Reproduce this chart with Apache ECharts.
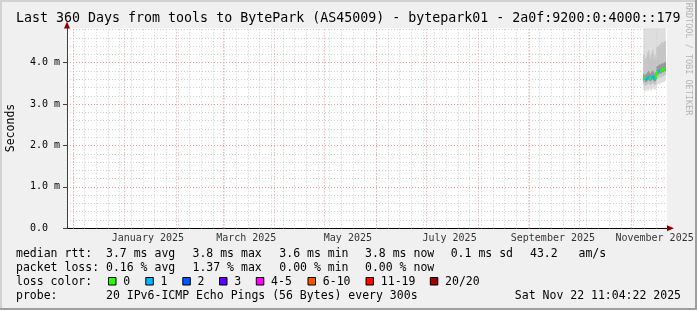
<!DOCTYPE html>
<html><head><meta charset="utf-8">
<script src="https://cdn.jsdelivr.net/npm/echarts@6/dist/echarts.min.js"></script>
<style>html,body{margin:0;padding:0;background:#f0f0f0}#c{width:697px;height:310px}</style>
</head><body><div id="c"></div>
<script>
// ---------------- data ----------------
const chartTitle = 'Last 360 Days from tools to BytePark (AS45009) - bytepark01 - 2a0f:9200:0:4000::179';
const yAxisTitle = 'Seconds';
const rangeStart = '2024-11-27T11:04:22Z';
const rangeEnd = '2025-11-22T11:04:22Z';
const sampleStart = '2025-11-08T13:30:00Z';
const sampleStepHours = 14.4;
// median RTT per consolidated step (ms)
const medianRtt = [3.62,3.61,3.60,3.60,3.63,3.65,3.63,3.62,3.64,3.66,3.64,3.60,3.62,3.75,3.77,3.78,3.81,3.80,3.82,3.84,3.84,3.86];
// lost pings (of 20) per step -> colour bucket
const lossCount = [0,0,0,1,1,1,1,0,0,1,1,1,1,0,0,0,1,1,0,0,0,0];
// smoke: distribution of ping RTTs per step (ms)
const smokeMin = [3.34,3.31,3.33,3.36,3.32,3.35,3.38,3.33,3.36,3.40,3.37,3.34,3.38,3.48,3.50,3.47,3.52,3.50,3.53,3.55,3.52,3.56];
const smokeP10 = [3.47,3.45,3.44,3.46,3.48,3.50,3.47,3.46,3.49,3.51,3.49,3.46,3.48,3.60,3.62,3.63,3.65,3.64,3.66,3.68,3.67,3.70];
const smokeP25 = [3.55,3.54,3.53,3.54,3.57,3.58,3.56,3.55,3.57,3.59,3.57,3.54,3.56,3.68,3.70,3.71,3.74,3.73,3.75,3.77,3.77,3.79];
const smokeP75 = [3.74,3.72,3.71,3.73,3.77,3.80,3.76,3.74,3.78,3.81,3.78,3.74,3.77,3.90,3.92,3.93,3.96,3.95,3.97,3.99,3.98,4.01];
const smokeP90 = [4.20,4.12,4.08,4.15,4.25,4.30,4.18,4.10,4.22,4.32,4.20,4.10,4.18,4.35,4.40,4.38,4.45,4.42,4.48,4.50,4.46,4.52];
const smokeMax = [5.6,5.3,5.2,5.5,5.8,6.0,5.4,5.2,5.6,6.1,5.5,5.2,5.4,5.9,6.2,6.0,6.3,6.1,6.4,6.5,6.2,6.6];
const yMax = 4.83;
const monthLabels = ['January 2025','March 2025','May 2025','July 2025','September 2025','November 2025'];
const monthLabelDates = ['2025-01-15','2025-03-15','2025-05-15','2025-07-15','2025-09-15','2025-11-15'];
const monthLineDates = ['2024-12-01','2025-01-01','2025-02-01','2025-03-01','2025-04-01','2025-05-01','2025-06-01','2025-07-01','2025-08-01','2025-09-01','2025-10-01','2025-11-01'];
const firstWeekLine = '2024-12-01';
const lossLegendLabels = ['0','1','2','3','4-5','6-10','11-19','20/20'];
const lossLegendColors = ['#26ff00','#00b8ff','#0059ff','#5e00ff','#ff00ff','#ff5500','#ff0000','#a00000'];
const rttRow = ['median rtt:  3.7 ms avg','3.8 ms max','3.6 ms min','3.8 ms now','0.1 ms sd','43.2   am/s'];
const lossRow = ['packet loss: 0.16 % avg','1.37 % max','0.00 % min','0.00 % now'];
const lossColorTitle = 'loss color:';
const probeRow = 'probe:       20 IPv6-ICMP Echo Pings (56 Bytes) every 300s';
const stampText = 'Sat Nov 22 11:04:22 2025';
const watermark = 'RRDTOOL / TOBI OETIKER';

// ---------------- build ----------------
const DAY = 86400000;
const t0 = Date.parse(rangeStart), t1 = Date.parse(rangeEnd);
const STEP = sampleStepHours * 3600000;
const sampleT = medianRtt.map((_, i) => Date.parse(sampleStart) + i * STEP);
const weekLines = [];
for (let t = Date.parse(firstWeekLine + 'T00:00:00Z'); t < t1; t += 7 * DAY) weekLines.push(t);
const bucketColor = n => n === 0 ? lossLegendColors[0] : lossLegendColors[Math.min(n, 3)];

const MONO = '"DejaVu Sans Mono"';
const legendCols = [16, 192.5, 279.3, 365, 450.7, 530];
const boxX = [108.5, 145.8, 182.8, 219.5, 256.3, 308, 366, 430.3];
const rowY = [254, 268.3, 282, 296];
const lf = '11.5px ' + MONO;

const graphic = [];
function txt(s, x, y, font, opts) {
  graphic.push(Object.assign({ type: 'text', silent: true, z: 10,
    style: Object.assign({ text: s, x: x, y: y, font: font, fill: '#000', verticalAlign: 'middle', textVerticalAlign: 'middle', align: 'left' }, opts || {}) }));
}
// border bevel
graphic.push({ type: 'rect', shape: { x: 0, y: 0, width: 697, height: 2 }, style: { fill: '#d2d2d2' }, silent: true });
graphic.push({ type: 'rect', shape: { x: 0, y: 0, width: 2, height: 310 }, style: { fill: '#d2d2d2' }, silent: true });
graphic.push({ type: 'rect', shape: { x: 695, y: 0, width: 2, height: 310 }, style: { fill: '#9e9e9e' }, silent: true });
graphic.push({ type: 'rect', shape: { x: 0, y: 308, width: 697, height: 2 }, style: { fill: '#9e9e9e' }, silent: true });
txt(chartTitle, 16, 19, '13.3px ' + MONO);
graphic.push({ type: 'text', silent: true, z: 10, rotation: Math.PI / 2, x: 11, y: 128,
  style: { text: yAxisTitle, x: 0, y: 0, font: '11.5px ' + MONO, fill: '#000', align: 'center', verticalAlign: 'middle' } });
graphic.push({ type: 'text', silent: true, z: 10, rotation: -Math.PI / 2, x: 688.5, y: 59,
  style: { text: watermark, x: 0, y: 0, font: '8.5px ' + MONO, fill: '#b4b4b4', align: 'center', verticalAlign: 'middle' } });
rttRow.forEach((s, i) => txt(s, legendCols[i], rowY[0], lf));
lossRow.forEach((s, i) => txt(s, legendCols[i], rowY[1], lf));
txt(lossColorTitle, 16, rowY[2], lf);
lossLegendLabels.forEach((s, i) => {
  graphic.push({ type: 'rect', silent: true, z: 10, shape: { x: boxX[i], y: 277.5, width: 7.5, height: 7.5 },
    style: { fill: lossLegendColors[i], stroke: '#000', lineWidth: 1 } });
  txt(s, boxX[i] + 14.8, rowY[2], lf);
});
txt(probeRow, 16, rowY[3], lf);
txt(stampText, 681, rowY[3], lf, { align: 'right' });
// axis arrows
graphic.push({ type: 'polygon', silent: true, z: 10, shape: { points: [[64, 28.5], [70, 28.5], [67, 21.5]] }, style: { fill: '#8b0000' } });
graphic.push({ type: 'polygon', silent: true, z: 10, shape: { points: [[667, 225.3], [667, 231.3], [674, 228.3]] }, style: { fill: '#8b0000' } });

const smokeData = sampleT.map((t, i) => [t, smokeMin[i], smokeP10[i], smokeP25[i], smokeP75[i], smokeP90[i], smokeMax[i]]);
const medData = sampleT.map((t, i) => [t, medianRtt[i], lossCount[i], i > 0 ? sampleT[i - 1] : t, i > 0 ? medianRtt[i - 1] : medianRtt[i]]);

const option = {
  animation: false,
  backgroundColor: '#f0f0f0',
  grid: { left: 67, top: 28.3, width: 600, height: 200, show: true, backgroundColor: '#ffffff', borderWidth: 0 },
  xAxis: {
    type: 'value', min: t0, max: t1,
    axisLine: { show: true, onZero: false, lineStyle: { color: '#000', width: 1 } },
    axisTick: { show: false }, axisLabel: { show: false }, splitLine: { show: false }
  },
  yAxis: [
    { type: 'value', min: 0, max: yMax, interval: 0.2, position: 'left', z: 0,
      axisLine: { show: false }, axisTick: { show: false }, axisLabel: { show: false },
      splitLine: { show: true, showMaxLine: false, showMinLine: false, lineStyle: { color: '#cfcfcf', width: 1, type: [1, 2] } } },
    { type: 'value', min: 0, max: yMax, interval: 1, position: 'left', z: 1,
      axisLine: { show: true, lineStyle: { color: '#404040', width: 1 } },
      axisTick: { show: true, length: 4, lineStyle: { color: '#404040' } },
      axisLabel: { show: true, showMaxLabel: false, align: 'left', margin: 37, fontFamily: MONO, fontSize: 10, color: '#000',
        formatter: v => v === 0 ? '0.0' : v.toFixed(1) + ' m' },
      splitLine: { show: true, showMaxLine: false, showMinLine: false, lineStyle: { color: '#f29a9a', width: 1, type: [1, 2] } } }
  ],
  series: [
    { type: 'custom', name: 'smoke', yAxisIndex: 1, z: 1, silent: true, data: smokeData,
      renderItem: function (params, api) {
        const t = api.value(0);
        const w = api.size([STEP, 0])[0];
        const cs = params.coordSys;
        const layers = [[1, 6, '#dcdcdc'], [2, 5, '#bdbdbd'], [3, 4, '#858585']];
        return { type: 'group', children: layers.map(L => {
          const top = api.coord([t, api.value(L[1])]);
          const bot = api.coord([t, api.value(L[0])]);
          const r = echarts.graphic.clipRectByRect({ x: top[0] - w / 2, y: top[1], width: w + 0.4, height: bot[1] - top[1] },
            { x: cs.x, y: cs.y, width: cs.width, height: cs.height });
          return { type: 'rect', shape: r || { x: 0, y: 0, width: 0, height: 0 }, style: { fill: L[2] } };
        }) };
      } },
    { type: 'scatter', name: 'weeks', yAxisIndex: 1, z: 2, silent: true, data: [],
      markLine: { silent: true, symbol: 'none', animation: false, label: { show: false },
        lineStyle: { color: '#cfcfcf', width: 1, type: [1, 2] },
        data: weekLines.map(t => ({ xAxis: t })) } },
    { type: 'scatter', name: 'months', yAxisIndex: 1, z: 3, silent: true, clip: false,
      symbolSize: 1, itemStyle: { color: 'rgba(0,0,0,0)' },
      data: monthLabelDates.map(d => [Date.parse(d + 'T00:00:00Z'), 0]),
      label: { show: true, position: 'bottom', distance: 5, fontFamily: MONO, fontSize: 10, color: '#000',
        formatter: p => monthLabels[p.dataIndex] },
      markLine: { silent: true, symbol: 'none', animation: false, label: { show: false },
        lineStyle: { color: '#f29a9a', width: 1, type: [1, 2] },
        data: monthLineDates.map(d => ({ xAxis: Date.parse(d + 'T00:00:00Z') })) } },
    { type: 'custom', name: 'median', yAxisIndex: 1, z: 5, silent: true, data: medData,
      renderItem: function (params, api) {
        const a = api.coord([api.value(3), api.value(4)]);
        const b = api.coord([api.value(0), api.value(1)]);
        if (a[0] === b[0]) return { type: 'group', children: [] };
        return { type: 'line', shape: { x1: a[0], y1: a[1], x2: b[0], y2: b[1] },
          style: { stroke: bucketColor(api.value(2)), lineWidth: 2, lineCap: 'square' } };
      } }
  ],
  graphic: graphic
};
const chart = echarts.init(document.getElementById('c'), null, { renderer: 'canvas' });
chart.setOption(option);
</script></body></html>
